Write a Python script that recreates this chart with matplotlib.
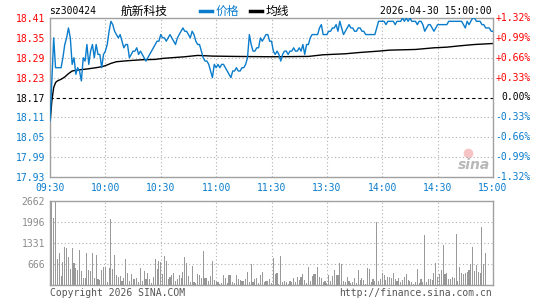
import numpy as np
import matplotlib
matplotlib.use("Agg")
import matplotlib.pyplot as plt
from matplotlib.lines import Line2D
from matplotlib.transforms import blended_transform_factory

# ---------- chart data ----------
code = "sz300424"
name = "航新科技"
stamp = "2026-04-30 15:00:00"
prev_close = 18.17

time_ticks = [0, 30, 60, 90, 120, 150, 180, 210, 240]
time_labels = ["09:30", "10:00", "10:30", "11:00", "11:30", "13:30", "14:00", "14:30", "15:00"]
price_ticks = [18.41, 18.35, 18.29, 18.23, 18.17, 18.11, 18.05, 17.99, 17.93]
pct_labels = ["+1.32%", "+0.99%", "+0.66%", "+0.33%", "0.00%", "-0.33%", "-0.66%", "-0.99%", "-1.32%"]
vol_ticks = [666, 1331, 1996, 2662]

# one price per minute, 09:30 .. 15:00 (lunch break collapsed)
price = [
    18.10, 18.22, 18.35, 18.26, 18.26, 18.26, 18.26, 18.29, 18.33, 18.35,
    18.38, 18.35, 18.27, 18.29, 18.24, 18.26, 18.25, 18.22, 18.29, 18.28,
    18.33, 18.27, 18.31, 18.33, 18.29, 18.33, 18.30, 18.30, 18.26, 18.30,
    18.31, 18.33, 18.37, 18.40, 18.39, 18.37, 18.36, 18.35, 18.36, 18.34,
    18.32, 18.33, 18.33, 18.29, 18.30, 18.31, 18.31, 18.32, 18.30, 18.31,
    18.30, 18.29, 18.28, 18.29, 18.30, 18.31, 18.32, 18.33, 18.34, 18.34,
    18.36, 18.35, 18.35, 18.34, 18.35, 18.36, 18.35, 18.34, 18.33, 18.35,
    18.36, 18.37, 18.38, 18.37, 18.37, 18.36, 18.35, 18.37, 18.36, 18.34,
    18.33, 18.33, 18.31, 18.29, 18.28, 18.28, 18.27, 18.25, 18.23, 18.27,
    18.26, 18.27, 18.26, 18.27, 18.27, 18.26, 18.25, 18.24, 18.23, 18.25,
    18.25, 18.26, 18.25, 18.25, 18.26, 18.26, 18.27, 18.29, 18.36, 18.33,
    18.31, 18.31, 18.32, 18.32, 18.35, 18.34, 18.35, 18.36, 18.36, 18.34,
    18.34, 18.31, 18.30, 18.31, 18.30, 18.28, 18.30, 18.31, 18.31, 18.30,
    18.31, 18.31, 18.32, 18.31, 18.31, 18.32, 18.31, 18.33, 18.30, 18.33,
    18.33, 18.35, 18.36, 18.36, 18.36, 18.36, 18.38, 18.39, 18.36, 18.36,
    18.36, 18.37, 18.37, 18.38, 18.38, 18.39, 18.37, 18.40, 18.38, 18.36,
    18.37, 18.38, 18.39, 18.38, 18.38, 18.37, 18.37, 18.38, 18.38, 18.37,
    18.37, 18.36, 18.36, 18.36, 18.36, 18.36, 18.36, 18.38, 18.40, 18.40,
    18.40, 18.40, 18.39, 18.40, 18.40, 18.40, 18.40, 18.39, 18.40, 18.40,
    18.40, 18.41, 18.40, 18.41, 18.40, 18.41, 18.40, 18.40, 18.40, 18.39,
    18.40, 18.40, 18.39, 18.37, 18.38, 18.39, 18.39, 18.38, 18.37, 18.38,
    18.39, 18.39, 18.39, 18.39, 18.39, 18.39, 18.40, 18.40, 18.40, 18.40,
    18.40, 18.40, 18.40, 18.40, 18.39, 18.38, 18.40, 18.39, 18.40, 18.41,
    18.41, 18.40, 18.40, 18.40, 18.39, 18.39, 18.38, 18.38, 18.38, 18.37,
    18.37,
]

# average price line, read at the minutes where it bends
avg_minutes = [0, 1, 2, 3, 4, 6, 8, 10, 12, 15, 20, 25, 28, 30, 33, 36, 42, 50,
               57, 61, 73, 80, 88, 100, 120, 140, 148, 160, 168, 178, 184, 198,
               208, 215, 222, 230, 240]
avg_price = [18.09, 18.16, 18.20, 18.215, 18.22, 18.225, 18.232, 18.242, 18.25,
             18.253, 18.256, 18.26, 18.263, 18.266, 18.273, 18.278, 18.281,
             18.284, 18.285, 18.288, 18.293, 18.297, 18.295, 18.294, 18.293,
             18.294, 18.299, 18.302, 18.306, 18.31, 18.313, 18.315, 18.32,
             18.322, 18.326, 18.33, 18.333]

# volume per minute (lots)
volume = [
    950, 2620, 2135, 2662, 825, 1025, 285, 740, 1215, 1165,
    900, 505, 1185, 685, 550, 475, 1110, 455, 235, 210,
    1025, 475, 445, 1025, 235, 950, 190, 160, 475, 580,
    580, 85, 530, 2090, 505, 950, 315, 265, 285, 125,
    235, 825, 370, 125, 350, 190, 190, 235, 85, 530,
    125, 445, 190, 390, 190, 55, 265, 825, 505, 760,
    740, 360, 920, 760, 190, 265, 315, 380, 125, 190,
    315, 235, 400, 900, 685, 295, 85, 615, 105, 55,
    340, 315, 210, 1080, 210, 235, 140, 285, 760, 160,
    125, 85, 30, 55, 315, 210, 55, 315, 315, 105,
    55, 315, 190, 160, 125, 125, 190, 400, 85, 655,
    85, 190, 235, 55,
    315, 400, 85, 125, 125, 190, 55, 865, 350, 390,
    20, 920, 85, 125, 85, 20, 125, 85, 235,
    85, 265, 160, 265, 350, 160, 75, 580, 125, 285,
    350, 350, 580, 265, 210, 85, 125, 55, 315,
    125, 295, 475, 315, 315, 685, 655, 125, 85, 245,
    125, 55, 85, 235, 55, 475, 160, 210, 160, 20,
    530, 505, 105, 190, 125, 1985, 125, 190, 370, 315,
    160, 245, 245, 235, 380, 190, 125, 210, 85, 160,
    265, 350, 160, 125, 85, 20, 85, 505, 55, 190,
    85, 1585, 85, 190, 190, 160, 370, 685, 265, 350,
    475, 1270, 340, 370, 190, 190, 265, 235, 1615, 125,
    580, 390, 350, 390, 400, 475, 655, 1215, 445,
    640, 420, 380, 1830, 680, 1000, 0, 0, 0, 0,
]

# ---------- styling ----------
plt.rcParams['font.family'] = ['DejaVu Sans Mono', 'Noto Sans CJK SC']
CJK = ['Noto Sans CJK SC', 'DejaVu Sans']
RED = '#ff0000'
BLUE = '#0a7ccc'
GRID = '#b0b0b0'
EDGE = '#a0a0a0'
VOLC = '#999999'

W, H = 545, 300


def px_box(left, top, right, bottom):
    return [left / W, 1 - bottom / H, (right - left) / W, (bottom - top) / H]


def fx(x):
    return x / W


def fy(y):
    return 1 - y / H


def side_color(value, ref):
    if value > ref:
        return RED
    if value < ref:
        return BLUE
    return 'black'


fig = plt.figure(figsize=(W / 100, H / 100), dpi=100)
fig.patch.set_facecolor('white')
minutes = np.arange(len(price))

# ---------- price panel ----------
ax = fig.add_axes(px_box(50, 18, 493, 177))
ax.set_xlim(0, 240)
ax.set_ylim(price_ticks[-1], price_ticks[0])
for t in time_ticks[1:-1]:
    ax.axvline(t, color=GRID, lw=0.8, ls=(0, (1, 2.2)), zorder=1)
for p in price_ticks[1:-1]:
    if p == prev_close:
        ax.axhline(p, color='black', lw=0.8, ls=(0, (3, 2.5)), zorder=1)
    else:
        ax.axhline(p, color=GRID, lw=0.8, ls=(0, (1, 2.2)), zorder=1)
ax.plot(avg_minutes, avg_price, color='black', lw=1.0, zorder=2)
ax.plot(minutes, price, color=BLUE, lw=1.0, zorder=3)

ax.set_xticks(time_ticks, time_labels)
ax.set_yticks(price_ticks, [f"{p:.2f}" for p in price_ticks])
ax.tick_params(length=0, labelsize=7)
ax.tick_params(axis='y', pad=3.6)
ax.tick_params(axis='x', pad=4.5, labelcolor=BLUE)
for lbl, p in zip(ax.get_yticklabels(), price_ticks):
    lbl.set_color(side_color(p, prev_close))
for s in ax.spines.values():
    s.set_color(EDGE)
    s.set_linewidth(1.0)

trans = blended_transform_factory(fig.transFigure, ax.transData)
for p, s in zip(price_ticks, pct_labels):
    ax.text(fx(531), p, s, transform=trans, ha='right', va='center',
            fontsize=7, color=side_color(p, prev_close))

# sina watermark (eye logo drawn as a marker, word as text)
ax.plot([fx(468)], [fy(153)], transform=fig.transFigure, marker='o',
        markersize=6, color='#f6c4c4', zorder=0, clip_on=False)
ax.text(fx(474), fy(165), 'sina', transform=fig.transFigure, ha='center',
        va='center', fontsize=10, color='#b8b8b8', fontweight='bold',
        fontstyle='italic', family='DejaVu Sans', zorder=0)

# ---------- volume panel ----------
axv = fig.add_axes(px_box(50, 201, 493, 285))
axv.set_xlim(0, 240)
axv.set_ylim(0, vol_ticks[-1])
for t in time_ticks[1:-1]:
    axv.axvline(t, color=GRID, lw=0.8, ls=(0, (1, 2.2)), zorder=1)
for v in vol_ticks[:-1]:
    axv.axhline(v, color=GRID, lw=0.8, ls=(0, (1, 2.2)), zorder=1)
axv.bar(minutes, volume, width=0.6, color=VOLC, linewidth=0, zorder=2)
axv.set_xticks([])
axv.set_yticks(vol_ticks, [str(v) for v in vol_ticks])
axv.tick_params(length=0, labelsize=7, pad=3.6, labelcolor='#8c8c8c')
for s in axv.spines.values():
    s.set_color(EDGE)
    s.set_linewidth(1.0)

# ---------- header / footer ----------
fig.text(fx(49), fy(11), code, ha='left', va='center', fontsize=7)
fig.text(fx(121), fy(11), name, ha='left', va='center', fontsize=8.5, family=CJK)
fig.add_artist(Line2D([fx(200), fx(212)], [fy(11), fy(11)], color=BLUE, lw=2.5))
fig.text(fx(216), fy(11), '价格', ha='left', va='center', fontsize=8.5,
         family=CJK, color=BLUE)
fig.add_artist(Line2D([fx(250), fx(262)], [fy(11), fy(11)], color='black', lw=2.5))
fig.text(fx(266), fy(11), '均线', ha='left', va='center', fontsize=8.5, family=CJK)
fig.text(fx(492), fy(11), stamp, ha='right', va='center', fontsize=7)

fig.text(fx(50), fy(293), 'Copyright 2026 SINA.COM', ha='left', va='center',
         fontsize=7, color='#555555')
fig.text(fx(492), fy(293), 'http://finance.sina.com.cn', ha='right',
         va='center', fontsize=7, color='#555555')

fig.savefig('out.png', dpi=100, facecolor='white')
